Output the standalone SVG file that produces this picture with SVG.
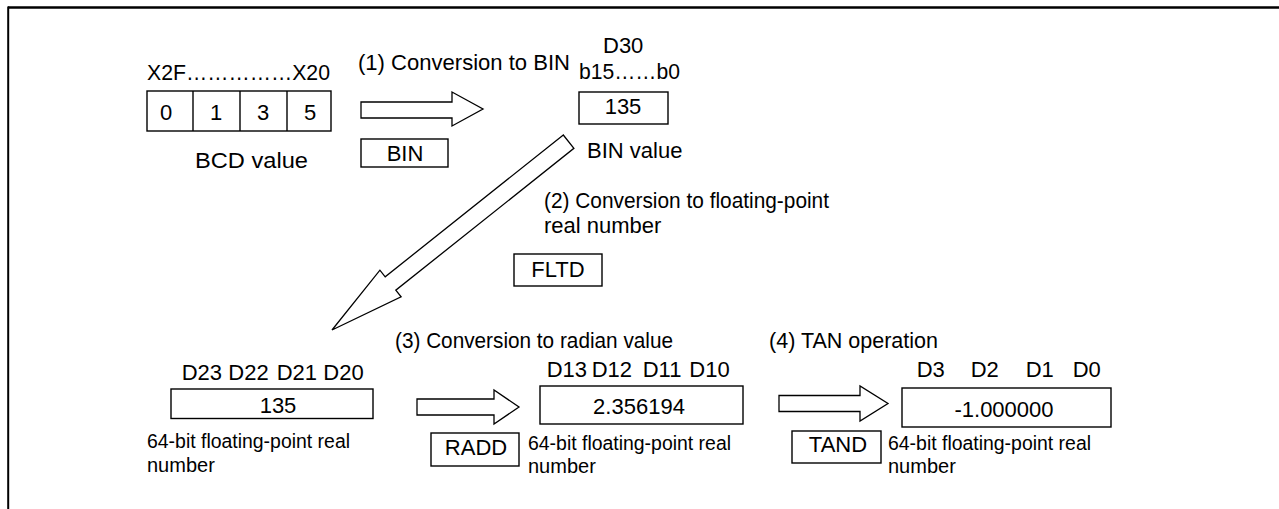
<svg xmlns="http://www.w3.org/2000/svg" width="1279" height="509" viewBox="0 0 1279 509">
<style>
text{font-family:"Liberation Sans",Arial,sans-serif;font-size:22px;fill:#000}
.s{font-size:20px}
.m{text-anchor:middle}
.box{fill:#fff;stroke:#000;stroke-width:1.4}
.arr{fill:#fff;stroke:#000;stroke-width:1.3;stroke-linejoin:miter}
.frame{stroke:#000;fill:none}
</style>
<rect width="1279" height="509" fill="#fff"/>
<g id="frame">
<line class="frame" x1="8" y1="7.5" x2="1279" y2="7.5" stroke-width="2.6"/>
<line class="frame" x1="8.2" y1="6.5" x2="8.2" y2="509" stroke-width="2"/>
</g>
<g id="bcd">
<text x="147" y="80" textLength="183" lengthAdjust="spacingAndGlyphs">X2F……………X20</text>
<rect class="box" x="147" y="91" width="184" height="40"/>
<line class="frame" x1="193" y1="91" x2="193" y2="131" stroke-width="1.4"/>
<line class="frame" x1="240" y1="91" x2="240" y2="131" stroke-width="1.4"/>
<line class="frame" x1="287" y1="91" x2="287" y2="131" stroke-width="1.4"/>
<text class="m" x="166" y="120">0</text>
<text class="m" x="216" y="120">1</text>
<text class="m" x="263" y="120">3</text>
<text class="m" x="310" y="120">5</text>
<text x="195" y="168" textLength="113" lengthAdjust="spacingAndGlyphs">BCD value</text>
</g>
<g id="step1">
<text x="358" y="70" textLength="212" lengthAdjust="spacingAndGlyphs">(1) Conversion to BIN</text>
<rect class="box" x="361" y="139" width="87" height="28"/>
<text class="m" x="405" y="161">BIN</text>
</g>
<g id="d30">
<text x="603" y="53">D30</text>
<text x="579" y="79" textLength="101" lengthAdjust="spacingAndGlyphs">b15……b0</text>
<rect class="box" x="579" y="92" width="89" height="32"/>
<text class="m" x="623" y="114">135</text>
<text x="587" y="158">BIN value</text>
</g>
<g id="step2">
<text x="544" y="208" textLength="285" lengthAdjust="spacingAndGlyphs">(2) Conversion to floating-point</text>
<text x="544" y="233">real number</text>
<rect class="box" x="514" y="254" width="88" height="32"/>
<text class="m" x="558" y="277">FLTD</text>
</g>
<g id="d20">
<text x="181.7" y="380">D23</text>
<text x="228.3" y="380">D22</text>
<text x="276.7" y="380">D21</text>
<text x="323.3" y="380">D20</text>
<rect class="box" x="171" y="389" width="202" height="29.5"/>
<text class="m" x="278" y="413">135</text>
<text class="s" x="147" y="448" textLength="203" lengthAdjust="spacingAndGlyphs">64-bit floating-point real</text>
<text class="s" x="147" y="471.5">number</text>
</g>
<g id="step3">
<text x="395" y="348" textLength="278" lengthAdjust="spacingAndGlyphs">(3) Conversion to radian value</text>
<rect class="box" x="431" y="433" width="88" height="33"/>
<text class="m" x="476" y="455">RADD</text>
</g>
<g id="d10">
<text x="546.7" y="377">D13</text>
<text x="591.7" y="377">D12</text>
<text x="642.7" y="377">D11</text>
<text x="689.3" y="377">D10</text>
<rect class="box" x="540" y="386" width="203" height="38"/>
<text class="m" x="639" y="414">2.356194</text>
<text class="s" x="528" y="450" textLength="203" lengthAdjust="spacingAndGlyphs">64-bit floating-point real</text>
<text class="s" x="528" y="473">number</text>
</g>
<g id="step4">
<text x="769" y="348" textLength="169" lengthAdjust="spacingAndGlyphs">(4) TAN operation</text>
<rect class="box" x="792" y="431" width="89" height="32"/>
<text class="m" x="838" y="452">TAND</text>
</g>
<g id="d0">
<text x="916.7" y="377">D3</text>
<text x="970.7" y="377">D2</text>
<text x="1025.7" y="377">D1</text>
<text x="1072.7" y="377">D0</text>
<rect class="box" x="902" y="388" width="209" height="39"/>
<text class="m" x="1004" y="417">-1.000000</text>
<text class="s" x="888" y="450" textLength="203" lengthAdjust="spacingAndGlyphs">64-bit floating-point real</text>
<text class="s" x="888" y="473">number</text>
</g>
<g id="connectors">
<path class="arr" d="M361,102 H452 V92 L483,109 L452,126 V118 H361 Z"/>
<path class="arr" d="M563.3,135 L385.2,276.8 L379.9,270.2 L332,330 L401.1,296.8 L395.8,290.2 L573.9,148.3 Z"/>
<path class="arr" d="M417,399 H494 V390 L519,407 L494,424 V415 H417 Z"/>
<path class="arr" d="M779,395.5 H860 V386 L888,403.5 L860,421 V411.5 H779 Z"/>
</g>
</svg>
